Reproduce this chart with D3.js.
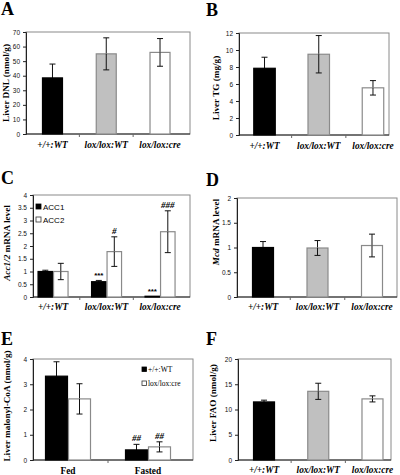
<!DOCTYPE html>
<html><head><meta charset="utf-8">
<script src="https://cdn.jsdelivr.net/npm/d3@7"></script>
<style>body{margin:0;background:#fff}svg{display:block}</style>
</head><body>
<script>
// ---------- DATA ----------
const genotypes = ["+/+:WT", "lox/lox:WT", "lox/lox:cre"];
const dnlMean = [38.5, 55, 56];
const dnlErr  = [9.5, 11, 9.5];
const dnlTicks = [0, 10, 20, 30, 40, 50, 60, 70];

const tgMean = [7.85, 9.5, 5.55];
const tgErr  = [1.3, 2.2, 0.85];
const tgTicks = [0, 2, 4, 6, 8, 10, 12];

const acc1Mean = [1.0, 0.6, 0.03];
const acc1Err  = [0.05, 0.05, 0];
const acc1Marks = ["", "***", "***"];
const acc2Mean = [1.0, 1.78, 2.56];
const acc2Err  = [0.32, 0.58, 0.82];
const acc2Marks = ["", "#", "###"];
const accTicks = [0, 0.5, 1, 1.5, 2, 2.5, 3, 3.5, 4];

const mcdMean = [1.0, 0.99, 1.04];
const mcdErr  = [0.12, 0.15, 0.23];
const mcdTicks = [0, 0.5, 1, 1.5, 2];

const feedStates = ["Fed", "Fasted"];
const malWTMean = [3.32, 0.4];
const malWTErr  = [0.57, 0.22];
const malWTMarks = ["", "##"];
const malCreMean = [2.42, 0.52];
const malCreErr  = [0.6, 0.2];
const malCreMarks = ["", "##"];
const malTicks = [0, 1, 2, 3, 4];

const faoMean = [11.5, 13.6, 12.1];
const faoErr  = [0.35, 1.6, 0.6];
const faoTicks = [0, 5, 10, 15, 20];

// ---------- DRAW ----------
const W = 400, H = 475;
const svg = d3.select("body").append("svg").attr("width", W).attr("height", H);
const SERIF = "'Liberation Serif','Times New Roman',serif";
const SANS = "'Liberation Sans',Arial,sans-serif";

function panel(c) {
  const g = svg.append("g");
  const y = d3.scaleLinear().domain([0, c.ticks[c.ticks.length - 1]]).range([c.b, c.t]);
  const x = d3.scaleBand().domain(c.cats).range(c.band).paddingInner(0).paddingOuter(0);
  const nS = c.series.length;
  const sub = d3.scaleBand().domain(d3.range(nS)).range([-c.barW * nS / 2, c.barW * nS / 2]);

  // frame
  g.append("rect").attr("x", c.l).attr("y", c.t).attr("width", c.r - c.l).attr("height", c.b - c.t)
    .attr("fill", "none").attr("stroke", "#8a8a8a").attr("stroke-width", 1);

  // y axis
  const ya = g.append("g").attr("transform", `translate(${c.l},0)`)
    .call(d3.axisLeft(y).tickValues(c.ticks).tickSize(3).tickPadding(3).tickFormat(d3.format("~g")));
  ya.select(".domain").attr("stroke", "#222");
  ya.selectAll(".tick line").attr("stroke", "#222");
  ya.selectAll("text").attr("font-family", SANS).attr("font-size", 6.5).attr("fill", "#111");

  // x axis (ticks between categories)
  const bounds = c.cats.slice(1).map(d => x(d));
  g.append("line").attr("x1", c.l).attr("x2", c.r).attr("y1", c.b).attr("y2", c.b).attr("stroke", "#222");
  g.selectAll(".xt").data(bounds).join("line")
    .attr("x1", d => d).attr("x2", d => d).attr("y1", c.b).attr("y2", c.b + 3).attr("stroke", "#666");

  // bars
  c.series.forEach((s, si) => {
    const xpos = (cat) => x(cat) + x.bandwidth() / 2 + sub(si);
    const data = c.cats.map((cat, i) => ({cat, v: s.values[i], e: s.errs[i], m: s.marks ? s.marks[i] : "", fill: s.fills[i], stroke: s.strokes[i]}));
    const gg = g.append("g");
    data.forEach(d => {
      const cx = xpos(d.cat) + sub.bandwidth() / 2;
      if (d.e > 0) {
        gg.append("line").attr("x1", cx).attr("x2", cx).attr("y1", y(d.v - d.e)).attr("y2", y(d.v + d.e)).attr("stroke", "#111");
        [d.v - d.e, d.v + d.e].forEach(val => {
          gg.append("line").attr("x1", cx - 3).attr("x2", cx + 3).attr("y1", y(val)).attr("y2", y(val)).attr("stroke", "#111");
        });
      }
    });
    const bg = g.append("g");
    data.forEach(d => {
      const x0 = xpos(d.cat);
      bg.append("rect").attr("x", x0 + 0.5).attr("y", y(d.v)).attr("width", sub.bandwidth() - 1)
        .attr("height", Math.max(0.8, y(0) - y(d.v))).attr("fill", d.fill).attr("stroke", d.stroke).attr("stroke-width", 1.2);
      const cx = x0 + sub.bandwidth() / 2;
      if (d.e > 0 && d.fill !== "#000") {
        bg.append("line").attr("x1", cx).attr("x2", cx).attr("y1", y(d.v - d.e)).attr("y2", y(d.v)).attr("stroke", "#111");
        bg.append("line").attr("x1", cx - 3).attr("x2", cx + 3).attr("y1", y(d.v - d.e)).attr("y2", y(d.v - d.e)).attr("stroke", "#111");
      }
      if (d.m) {
        const star = d.m.indexOf("*") >= 0;
        bg.append("text").attr("x", cx).attr("y", y(d.v + d.e) - (star ? 2 : 3)).attr("text-anchor", "middle")
          .attr("font-family", star ? SANS : SERIF).attr("font-style", star ? "normal" : "italic")
          .attr("font-weight", "bold").attr("font-size", star ? 8 : 9).text(d.m);
      }
    });
  });

  // category labels
  g.selectAll(".cl").data(c.cats).join("text")
    .attr("x", d => x(d) + x.bandwidth() / 2).attr("y", c.catY).attr("text-anchor", "middle")
    .attr("font-family", SERIF).attr("font-weight", "bold").attr("font-style", c.catItalic ? "italic" : "normal")
    .attr("font-size", 9.3).text(d => d);

  // y title
  const tt = g.append("text").attr("transform", `translate(${c.titleX},${c.titleY}) rotate(-90)`)
    .attr("text-anchor", "middle").attr("font-family", SERIF).attr("font-weight", "bold").attr("font-size", 9.2);
  c.title.forEach(p => tt.append("tspan").attr("font-style", p[1] ? "italic" : "normal").text(p[0]));

  // letter
  g.append("text").attr("x", c.letterX).attr("y", c.letterY).attr("font-family", SERIF)
    .attr("font-weight", "bold").attr("font-size", 18).text(c.letter);

  return {g, x, y};
}

const blackGrayWhite = {fills: ["#000", "#c0c0c0", "#fff"], strokes: ["#000", "#8a8a8a", "#8a8a8a"]};

panel({letter: "A", letterX: 1, letterY: 15, l: 26, r: 190, t: 32, b: 134, band: [25.6, 186.9],
  cats: genotypes, catItalic: true, catY: 148, ticks: dnlTicks, barW: 21,
  series: [Object.assign({values: dnlMean, errs: dnlErr}, blackGrayWhite)],
  title: [["Liver DNL (nmol/g)", false]], titleX: 9, titleY: 83});

panel({letter: "B", letterX: 206, letterY: 16, l: 239, r: 389, t: 33, b: 135, band: [237.4, 400.1],
  cats: genotypes, catItalic: true, catY: 149, ticks: tgTicks, barW: 22.5,
  series: [Object.assign({values: tgMean, errs: tgErr}, blackGrayWhite)],
  title: [["Liver TG (mg/g)", false]], titleX: 219, titleY: 88});

panel({letter: "C", letterX: 1, letterY: 184, l: 33, r: 190, t: 195, b: 297, band: [26.3, 186.8],
  cats: genotypes, catItalic: true, catY: 310, ticks: accTicks, barW: 15.5,
  series: [
    {values: acc1Mean, errs: acc1Err, marks: acc1Marks, fills: ["#000", "#000", "#000"], strokes: ["#000", "#000", "#000"]},
    {values: acc2Mean, errs: acc2Err, marks: acc2Marks, fills: ["#fff", "#fff", "#fff"], strokes: ["#8a8a8a", "#8a8a8a", "#8a8a8a"]}],
  title: [["Acc1/2", true], [" mRNA level", false]], titleX: 10, titleY: 243});

panel({letter: "D", letterX: 206, letterY: 186, l: 237, r: 397, t: 198, b: 297, band: [235.75, 399.25],
  cats: genotypes, catItalic: true, catY: 310, ticks: mcdTicks, barW: 22,
  series: [Object.assign({values: mcdMean, errs: mcdErr}, blackGrayWhite)],
  title: [["Mcd", true], [" mRNA level", false]], titleX: 219, titleY: 232});

panel({letter: "E", letterX: 1, letterY: 345, l: 33, r: 193, t: 359, b: 460, band: [28, 188],
  cats: feedStates, catItalic: false, catY: 474, ticks: malTicks, barW: 23,
  series: [
    {values: malWTMean, errs: malWTErr, marks: malWTMarks, fills: ["#000", "#000"], strokes: ["#000", "#000"]},
    {values: malCreMean, errs: malCreErr, marks: malCreMarks, fills: ["#fff", "#fff"], strokes: ["#8a8a8a", "#8a8a8a"]}],
  title: [["Liver malonyl-CoA (nmol/g)", false]], titleX: 10, titleY: 406});

panel({letter: "F", letterX: 206, letterY: 345, l: 238, r: 391, t: 359, b: 460, band: [236.9, 399.6],
  cats: genotypes, catItalic: true, catY: 473, ticks: faoTicks, barW: 22,
  series: [Object.assign({values: faoMean, errs: faoErr}, blackGrayWhite)],
  title: [["Liver FAO (nmol/g)", false]], titleX: 216, titleY: 403});

// legends
const accLegend = [{name: "ACC1", fill: "#000", stroke: "#000"}, {name: "ACC2", fill: "#fff", stroke: "#333"}];
const lc = svg.append("g");
accLegend.forEach((d, i) => {
  lc.append("rect").attr("x", 36).attr("y", 204 + i * 13).attr("width", 5).attr("height", 5).attr("fill", d.fill).attr("stroke", d.stroke).attr("stroke-width", 0.8);
  lc.append("text").attr("x", 43).attr("y", 209.5 + i * 13).attr("font-family", SANS).attr("font-size", 8).text(d.name);
});
const malLegend = [{name: "+/+:WT", fill: "#000", stroke: "#000"}, {name: "lox/lox:cre", fill: "#fff", stroke: "#333"}];
const le = svg.append("g");
malLegend.forEach((d, i) => {
  le.append("rect").attr("x", 142).attr("y", 367 + i * 14).attr("width", 4.5).attr("height", 4.5).attr("fill", d.fill).attr("stroke", d.stroke).attr("stroke-width", 0.8);
  le.append("text").attr("x", 148).attr("y", 372 + i * 14).attr("font-family", SERIF).attr("font-size", 7.5).text(d.name);
});
</script>
</body></html>
